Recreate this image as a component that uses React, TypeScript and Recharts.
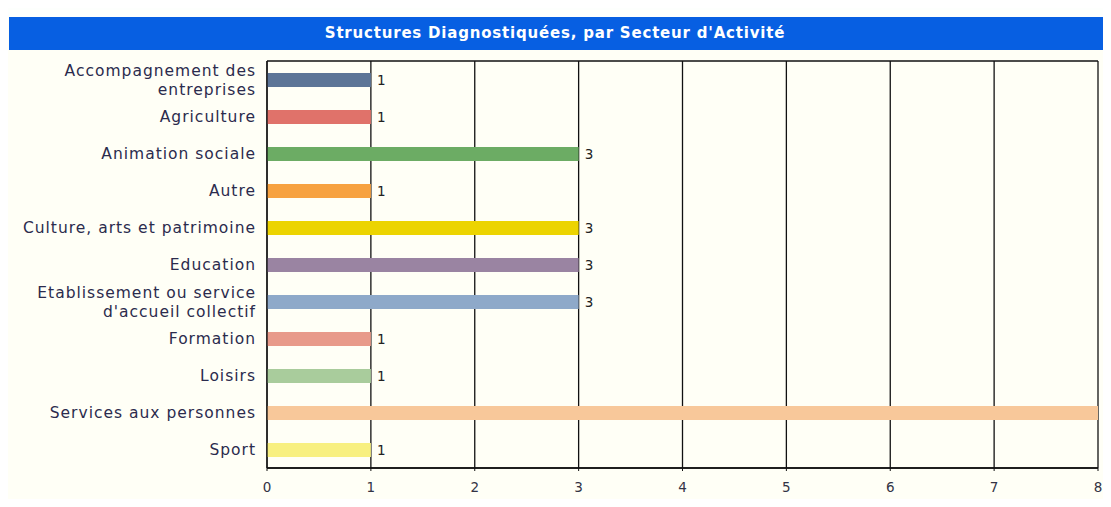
import React from 'react';
import { BarChart, Bar, XAxis, YAxis, CartesianGrid, Cell, LabelList } from 'recharts';

const categories = [
  'Accompagnement des entreprises',
  'Agriculture',
  'Animation sociale',
  'Autre',
  'Culture, arts et patrimoine',
  'Education',
  "Etablissement ou service d'accueil collectif",
  'Formation',
  'Loisirs',
  'Services aux personnes',
  'Sport',
];

const counts = [1, 1, 3, 1, 3, 3, 3, 1, 1, 8, 1];

const barColors = [
  '#5d7597', '#e0726a', '#6cac64', '#f7a240', '#ecd400', '#9a84a2',
  '#8ea9c9', '#e89a8a', '#a9cc9c', '#f8c89a', '#f8f080',
];

const xTicks = [0, 1, 2, 3, 4, 5, 6, 7, 8];

const data = categories.map((name, i) => ({ name, value: counts[i] }));

const LABEL_COLOR = '#2b2b4d';
const FONT = 'Verdana, "DejaVu Sans", sans-serif';

// greedy word wrap by character count
const wrap = (text: string, max = 28) => {
  const words = text.split(' ');
  const lines: string[] = [];
  let cur = '';
  words.forEach((w) => {
    const next = cur ? cur + ' ' + w : w;
    if (next.length > max && cur) {
      lines.push(cur);
      cur = w;
    } else {
      cur = next;
    }
  });
  if (cur) lines.push(cur);
  return lines;
};

const CategoryTick = (props: any) => {
  const { x, y, payload } = props;
  const lines = wrap(String(payload.value));
  const lh = 19;
  const start = -((lines.length - 1) * lh) / 2;
  const tx = x - 3;
  return (
    <text x={tx} y={y} textAnchor="end" fill={LABEL_COLOR} fontSize={15.5} letterSpacing={1} fontFamily={FONT}>
      {lines.map((l, i) => (
        <tspan key={i} x={tx} dy={i === 0 ? start + 5.5 : lh}>
          {l}
        </tspan>
      ))}
    </text>
  );
};

export default function App() {
  return (
    <div style={{ position: 'relative', width: 1111, height: 507, margin: -8, background: '#fffff6', overflow: 'hidden' }}>
      <div style={{ position: 'absolute', left: 0, top: 0, width: 1111, height: 17, background: '#fdfffd' }} />
      <div
        style={{
          position: 'absolute',
          left: 9,
          top: 17,
          width: 1102,
          height: 33,
          background: '#075fe2',
          color: '#ffffff',
          fontFamily: FONT,
          fontWeight: 'bold',
          fontSize: 15,
          letterSpacing: 0.8,
          lineHeight: '33px',
          textAlign: 'center',
          textIndent: -10,
        }}
      >
        Structures Diagnostiquées, par Secteur d'Activité
      </div>
      <div style={{ position: 'absolute', left: 0, top: 0 }}>
        <BarChart
          width={1111}
          height={507}
          data={data}
          layout="vertical"
          margin={{ top: 61, right: 13, left: 9, bottom: 0 }}
          barCategoryGap={0}
        >
          <CartesianGrid
            stroke="#111"
            strokeWidth={1.3}
            horizontal={true}
            vertical={true}
            horizontalCoordinatesGenerator={({ offset }: any) => [offset.top, offset.top + offset.height]}
          />
          <XAxis
            type="number"
            domain={[0, 8]}
            ticks={xTicks}
            height={39}
            axisLine={{ stroke: '#111', strokeWidth: 1.3 }}
            tickLine={{ stroke: '#111' }}
            tickSize={3}
            tick={{ fill: '#333344', fontSize: 13.5, fontFamily: FONT, dy: 9 }}
          />
          <YAxis
            type="category"
            dataKey="name"
            width={258}
            axisLine={{ stroke: '#111', strokeWidth: 1.3 }}
            tickLine={false}
            interval={0}
            tick={<CategoryTick />}
          />
          <Bar dataKey="value" barSize={14} isAnimationActive={false}>
            {data.map((d, i) => (
              <Cell key={d.name} fill={barColors[i]} />
            ))}
            <LabelList
              dataKey="value"
              position="right"
              offset={6}
              fill="#222"
              fontSize={13.5}
              fontFamily={FONT}
            />
          </Bar>
        </BarChart>
      </div>
    </div>
  );
}
